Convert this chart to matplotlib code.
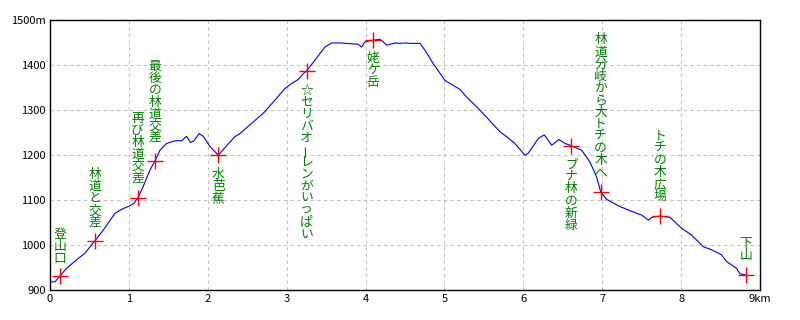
import matplotlib
matplotlib.use("Agg")
import matplotlib.pyplot as plt

plt.rcParams['font.family'] = ['Noto Sans CJK JP', 'DejaVu Sans']

# 標高プロファイル (km, m)
dist = [0.0, 0.063, 0.127, 0.21, 0.338, 0.44, 0.57, 0.676, 0.824, 0.91, 0.99, 1.056,
        1.11, 1.18, 1.267, 1.33, 1.394, 1.478, 1.584, 1.668, 1.73, 1.782, 1.825, 1.889,
        1.943, 2.028, 2.133, 2.238, 2.344, 2.408, 2.577, 2.704, 2.83, 2.979, 3.063,
        3.147, 3.21, 3.253, 3.359, 3.485, 3.57, 3.676, 3.908, 3.95, 3.99, 4.056, 4.097,
        4.18, 4.226, 4.268, 4.373, 4.436, 4.5, 4.584, 4.69, 4.753, 4.858, 5.006, 5.07,
        5.196, 5.281, 5.45, 5.703, 5.787, 5.893, 6.02, 6.06, 6.19, 6.265, 6.36, 6.45,
        6.527, 6.61, 6.739, 6.844, 6.928, 6.98, 7.055, 7.224, 7.35, 7.5, 7.585, 7.627,
        7.73, 7.858, 8.005, 8.13, 8.28, 8.385, 8.512, 8.575, 8.702, 8.745, 8.82]
elev = [918, 918, 931, 948, 967, 981, 1009, 1033, 1070, 1079, 1085, 1091,
        1103, 1129, 1166, 1186, 1210, 1225, 1231, 1231, 1241, 1227, 1231, 1247,
        1241, 1218, 1199, 1220, 1240, 1247, 1273, 1292, 1317, 1347, 1358,
        1367, 1380, 1386, 1410, 1439, 1448, 1448, 1445, 1439, 1450, 1453, 1454,
        1456, 1450, 1443, 1448, 1447, 1448, 1447, 1447, 1432, 1402, 1365, 1358,
        1345, 1328, 1299, 1251, 1240, 1225, 1199, 1203, 1236, 1244, 1221, 1234,
        1225, 1220, 1210, 1184, 1151, 1118, 1101, 1085, 1076, 1066, 1055, 1061,
        1064, 1061, 1037, 1022, 996, 989, 978, 963, 948, 936, 933]

# 地点
pt_names = ['登山口', '林道と交差', '再び林道交差', '最後の林道交差', '水芭蕉',
            '☆セリバオーレンがいっぱい', '姥ケ岳', 'ブナ林の新緑',
            '林道分岐から大トチの木へ', 'トチの木広場', '下山']
pt_km = [0.127, 0.57, 1.11, 1.33, 2.133, 3.253, 4.097, 6.61, 6.98, 7.73, 8.82]
pt_elev = [931, 1009, 1103, 1186, 1199, 1386, 1454, 1220, 1118, 1064, 933]
label_top = [1037, 1170, 1295, 1411, 1171, 1358, 1428, 1192, 1469, 1255, 1018]

xticks = list(range(10))
xlabels = ['0', '1', '2', '3', '4', '5', '6', '7', '8', '9km']
yticks = [900, 1000, 1100, 1200, 1300, 1400, 1500]
ylabels = ['900', '1000', '1100', '1200', '1300', '1400', '1500m']

fig = plt.figure(figsize=(8, 3.2), dpi=100)
ax = fig.add_axes([0.0625, 0.094, 0.8875, 0.845])

ax.plot(dist, elev, color='#0000ff', lw=0.8, zorder=3)
ax.plot(pt_km, pt_elev, '+', color='#ff0000', ms=12, mew=1.0, zorder=4)

pitch = 8.7  # 文字の間隔 (pt)
for name, x, top in zip(pt_names, pt_km, label_top):
    for i, ch in enumerate(name):
        ax.annotate(ch, xy=(x, top), xytext=(0, -i * pitch), textcoords='offset points',
                    ha='center', va='top', fontsize=9.2, color='#008000',
                    rotation=90 if ch == 'ー' else 0, zorder=5)

ax.set_xlim(0, 9)
ax.set_ylim(900, 1500)
ax.set_xticks(xticks)
ax.set_xticklabels(xlabels)
ax.set_yticks(yticks)
ax.set_yticklabels(ylabels)
ax.tick_params(length=0, labelsize=8, pad=3)
ax.grid(True, color='#c0c0c0', ls=(0, (3, 3)), lw=0.8)
for s in ax.spines.values():
    s.set_color('black')
    s.set_linewidth(1.0)

fig.savefig('out.png', dpi=100)
